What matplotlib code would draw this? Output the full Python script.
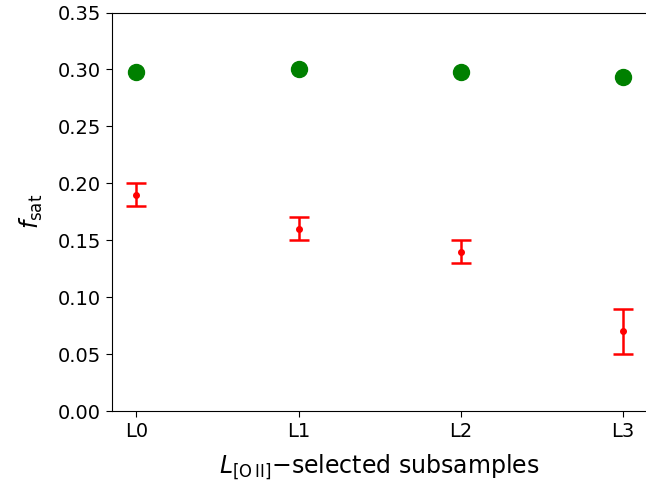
import numpy as np
import matplotlib
matplotlib.use("Agg")
import matplotlib.pyplot as plt

labels = ["L0", "L1", "L2", "L3"]
fsat_all = [0.298, 0.300, 0.298, 0.293]
fsat_sel = [0.19, 0.16, 0.14, 0.07]
fsat_err = [0.01, 0.01, 0.01, 0.02]

plt.rcParams["font.size"] = 14

fig = plt.figure(figsize=(6.46, 4.91), dpi=100)
ax = fig.add_axes([0.1734, 0.1629, 0.829, 0.8116])

x = np.arange(len(labels))
ax.plot(x, fsat_all, "o", color="green", ms=11.5, ls="none")
ax.errorbar(x, fsat_sel, yerr=fsat_err, fmt="o", color="red", ms=4,
            elinewidth=1.8, capsize=7, capthick=1.8)

ax.set_xticks(x)
ax.set_xticklabels(labels)
ax.set_xlim(-0.15, 3.15)
ax.set_ylim(0, 0.35)
ax.set_yticks(np.arange(0, 0.351, 0.05))
ax.tick_params(length=4.5)
ax.set_xlabel(r"$L_{[\mathrm{O\,II}]}$$-$selected subsamples", fontsize=17,
              labelpad=8)
ax.set_ylabel(r"$f_{\rm sat}$", fontsize=17, labelpad=9)

fig.savefig("out.png", dpi=100)
